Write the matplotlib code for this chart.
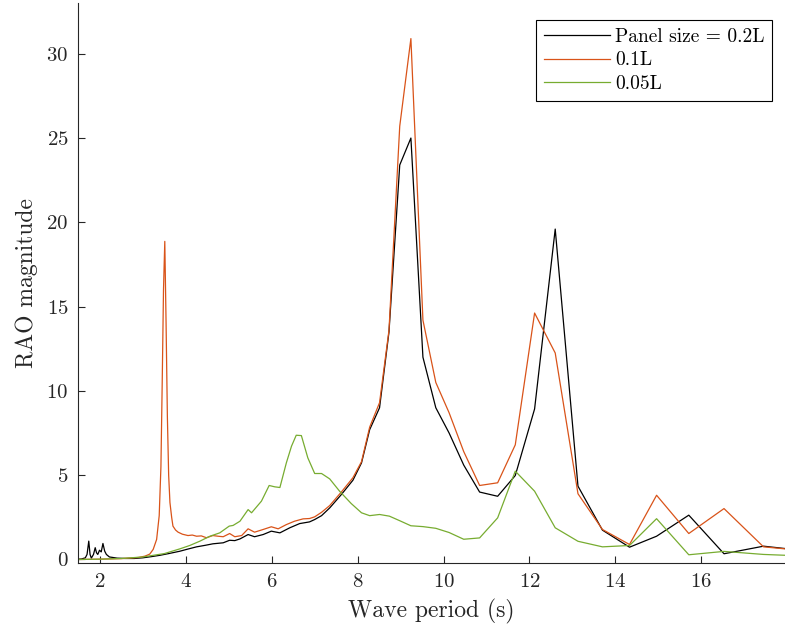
import matplotlib
matplotlib.use("Agg")
import matplotlib.pyplot as plt

# wave period (s) and RAO magnitude
period_02 = [1.50, 1.57, 1.66, 1.70, 1.74, 1.77, 1.80, 1.85, 1.89, 1.92, 1.95,
             1.99, 2.03, 2.07, 2.11, 2.15, 2.22, 2.30, 2.40, 2.60, 2.80, 3.00,
             3.20, 3.40, 3.60, 3.86, 4.05, 4.25, 4.45, 4.63, 4.87, 5.02, 5.14,
             5.26, 5.45, 5.60, 5.80, 5.99, 6.19, 6.42, 6.65, 6.88, 7.00, 7.16,
             7.35, 7.62, 7.89, 8.09, 8.28, 8.51, 8.73, 8.98, 9.24, 9.52, 9.82,
             10.13, 10.47, 10.84, 11.26, 11.67, 12.12, 12.60, 13.13, 13.70,
             14.33, 14.96, 15.71, 16.53, 17.45, 17.95]
rao_02 = [0.02, 0.03, 0.10, 0.30, 1.09, 0.30, 0.08, 0.30, 0.70, 0.40, 0.30,
          0.55, 0.45, 0.95, 0.50, 0.30, 0.15, 0.12, 0.08, 0.06, 0.06, 0.10,
          0.17, 0.25, 0.35, 0.49, 0.62, 0.75, 0.84, 0.93, 0.99, 1.14, 1.12,
          1.22, 1.48, 1.35, 1.48, 1.68, 1.58, 1.88, 2.13, 2.23, 2.37, 2.60,
          3.06, 3.85, 4.70, 5.73, 7.70, 9.00, 13.5, 23.4, 25.0, 12.0, 9.0,
          7.5, 5.6, 4.0, 3.75, 4.98, 8.93, 19.6, 4.35, 1.74,
          0.73, 1.38, 2.63, 0.34, 0.79, 0.65]

period_01 = [1.50, 2.00, 2.50, 2.90, 3.05, 3.16, 3.24, 3.32, 3.38, 3.42, 3.45,
             3.48, 3.51, 3.54, 3.57, 3.60, 3.63, 3.67, 3.70, 3.76, 3.82, 3.92,
             4.05, 4.15, 4.25, 4.36, 4.48, 4.63, 4.75, 4.87, 5.02, 5.14, 5.30,
             5.45, 5.60, 5.80, 5.99, 6.15, 6.34, 6.53, 6.73, 6.88, 7.00, 7.16,
             7.35, 7.62, 7.89, 8.09, 8.28, 8.51, 8.73, 8.98, 9.24, 9.52, 9.82,
             10.13, 10.47, 10.84, 11.26, 11.67, 12.12, 12.60, 13.13, 13.70,
             14.33, 14.96, 15.71, 16.53, 17.45, 17.95]
rao_01 = [0.00, 0.02, 0.05, 0.12, 0.20, 0.32, 0.60, 1.19, 2.60, 5.50, 10.5,
          16.0, 18.87, 14.0, 8.5, 5.0, 3.38, 2.50, 1.98, 1.75, 1.62, 1.50,
          1.42, 1.45, 1.38, 1.40, 1.29, 1.42, 1.38, 1.35, 1.54, 1.35, 1.42,
          1.82, 1.62, 1.78, 1.94, 1.82, 2.07, 2.27, 2.41, 2.43, 2.53, 2.80,
          3.20, 4.00, 4.85, 5.80, 7.85, 9.30, 13.6, 25.7, 30.9, 14.2, 10.5,
          8.7, 6.4, 4.39, 4.55, 6.8, 14.62, 12.25, 3.9, 1.78,
          0.89, 3.81, 1.54, 3.02, 0.75, 0.63]

period_005 = [1.50, 2.00, 2.50, 3.00, 3.50, 3.86, 4.09, 4.33, 4.56, 4.79, 5.01,
              5.10, 5.26, 5.45, 5.53, 5.76, 5.94, 6.07, 6.19, 6.34, 6.46, 6.57,
              6.69, 6.84, 7.00, 7.16, 7.35, 7.58, 7.85, 8.09, 8.28, 8.51, 8.74,
              8.98, 9.24, 9.52, 9.82, 10.13, 10.47, 10.84, 11.26, 11.67, 12.12,
              12.60, 13.13, 13.70, 14.33, 14.96, 15.71, 16.53, 17.45, 17.95]
rao_005 = [0.00, 0.02, 0.06, 0.15, 0.35, 0.63, 0.83, 1.09, 1.38, 1.58, 1.98,
           2.02, 2.27, 2.96, 2.77, 3.46, 4.39, 4.31, 4.27, 5.73, 6.72, 7.37,
           7.35, 6.03, 5.10, 5.10, 4.78, 4.05, 3.32, 2.77, 2.60, 2.67, 2.57,
           2.30, 2.00, 1.95, 1.85, 1.60, 1.20, 1.28, 2.47, 5.24, 4.05,
           1.88, 1.08, 0.75, 0.83, 2.42, 0.28, 0.48, 0.30, 0.25]

labels = ["Panel size = 0.2L", "0.1L", "0.05L"]
colors = ["black", "#D95319", "#77AC30"]


def main():
    plt.rcParams["font.family"] = "serif"
    plt.rcParams["font.serif"] = ["cmr10"]
    plt.rcParams["mathtext.fontset"] = "cm"
    plt.rcParams["axes.formatter.use_mathtext"] = True

    fig = plt.figure(figsize=(7.85, 6.36), dpi=100)
    ax = fig.add_axes([0.0994, 0.115, 0.9006, 0.88])

    series = [(period_02, rao_02), (period_01, rao_01), (period_005, rao_005)]
    for (x, y), lab, col in zip(series, labels, colors):
        ax.plot(x, y, color=col, linewidth=0.9, label=lab)

    ax.set_xlim(1.49, 17.95)
    ax.set_ylim(-0.2, 33.0)
    ax.set_xticks(range(2, 17, 2))
    ax.set_yticks(range(0, 31, 5))

    for side in ["top", "right"]:
        ax.spines[side].set_visible(False)
    for side in ["left", "bottom"]:
        ax.spines[side].set_color("#262626")
        ax.spines[side].set_linewidth(0.8)
    ax.tick_params(direction="in", length=5, width=0.8, color="#262626",
                   labelsize=15, labelcolor="#262626", pad=7)

    ax.set_xlabel("Wave period (s)", fontsize=17, color="#262626", labelpad=6)
    ax.set_ylabel("RAO magnitude", fontsize=17, color="#262626", labelpad=6)

    leg = ax.legend(loc="upper right", bbox_to_anchor=(0.982, 0.970),
                    borderaxespad=0, fontsize=14, handlelength=3.4,
                    fancybox=False, framealpha=1, edgecolor="black",
                    borderpad=0.4, labelspacing=0.3, handletextpad=0.25)
    leg.get_frame().set_linewidth(0.8)

    fig.savefig("out.png", dpi=100)


main()
